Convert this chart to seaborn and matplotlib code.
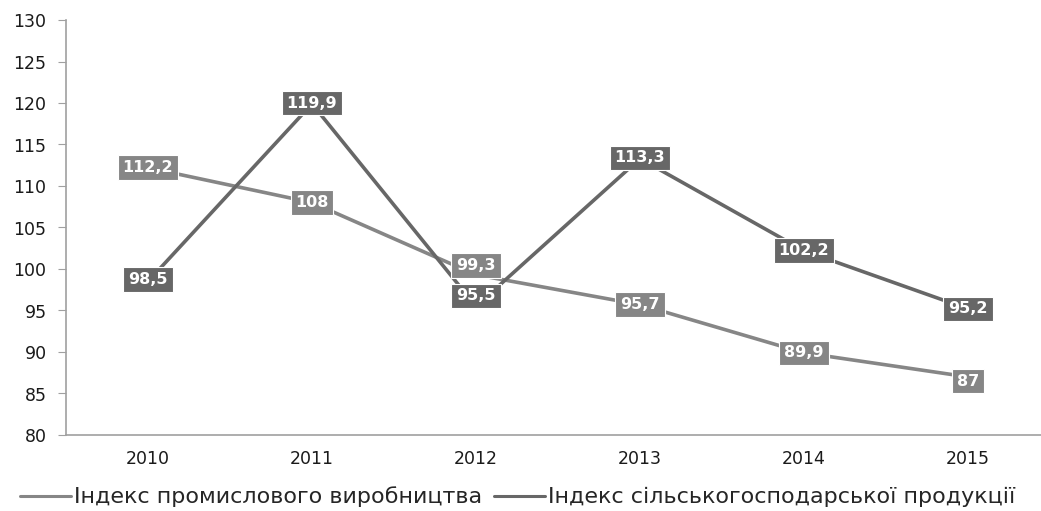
import matplotlib
matplotlib.use("Agg")
import matplotlib.pyplot as plt
import seaborn as sns
import pandas as pd

years = ["2010", "2011", "2012", "2013", "2014", "2015"]
industrial = [112.2, 108, 99.3, 95.7, 89.9, 87]
agricultural = [98.5, 119.9, 95.5, 113.3, 102.2, 95.2]
series_names = ["Індекс промислового виробництва", "Індекс сільськогосподарської продукції"]
yticks = [80, 85, 90, 95, 100, 105, 110, 115, 120, 125, 130]

sns.set_style("white")
plt.rcParams['font.family'] = ['DejaVu Sans']

df = pd.DataFrame({
    "year": years * 2,
    "pos": list(range(len(years))) * 2,
    "value": industrial + agricultural,
    "series": [series_names[0]] * len(years) + [series_names[1]] * len(years),
})
colors = {series_names[0]: "#868686", series_names[1]: "#676767"}

fig = plt.figure(figsize=(10.41, 5.11), dpi=100)
ax = fig.add_axes([66 / 1041, 76 / 511, 984 / 1041, 415 / 511])
sns.lineplot(data=df, x="pos", y="value", hue="series", palette=colors, linewidth=2.6, ax=ax, legend=True)

# label offsets in points (vertical), to mimic reference placement
offsets = {series_names[0]: [0, 0, 6.5, 0, 0, -3], series_names[1]: [1.5, 0.5, 7.5, 0.5, 0, 0]}
for name, vals in [(series_names[0], industrial), (series_names[1], agricultural)]:
    for i, v in enumerate(vals):
        txt = f"{v:g}".replace(".", ",")
        ax.annotate(txt, (i, v), xytext=(0, offsets[name][i]), textcoords="offset points",
                    ha="center", va="center", color="white", fontsize=11.5,
                    fontweight="bold", family="DejaVu Sans",
                    bbox=dict(boxstyle="square,pad=0.3", fc=colors[name], ec="white", lw=0.8),
                    zorder=5)

ax.set_xlim(-0.5, 5.5)
ax.set_ylim(80, 130)
ax.set_yticks(yticks)
ax.set_yticklabels([str(t) for t in yticks], fontsize=12.5, color="#1a1a1a")
ax.set_xticks(range(len(years)))
ax.set_xticklabels(years, fontsize=12.5, color="#1a1a1a")
ax.set_xticks([i - 0.5 for i in range(len(years) + 1)], minor=True)
ax.tick_params(axis="x", which="major", length=0, pad=11)
ax.tick_params(axis="x", which="minor", length=6, color="#a0a0a0", direction="out")
ax.tick_params(axis="y", length=6, color="#a0a0a0", direction="out", pad=8, left=True)
ax.set_xlabel("")
ax.set_ylabel("")
for s in ["top", "right"]:
    ax.spines[s].set_visible(False)
for s in ["left", "bottom"]:
    ax.spines[s].set_color("#a0a0a0")
    ax.spines[s].set_linewidth(1.2)

handles, labels = ax.get_legend_handles_labels()
ax.get_legend().remove()
for h in handles:
    h.set_linewidth(2.2)
fig.legend(handles, labels, loc="center left", bbox_to_anchor=(20 / 1041, 14 / 511),
           ncol=2, frameon=False, handlelength=2.3, handletextpad=0.15, columnspacing=0.5,
           borderpad=0, borderaxespad=0,
           prop={"family": "DejaVu Sans", "size": 16})

fig.savefig("out.png", dpi=100)
